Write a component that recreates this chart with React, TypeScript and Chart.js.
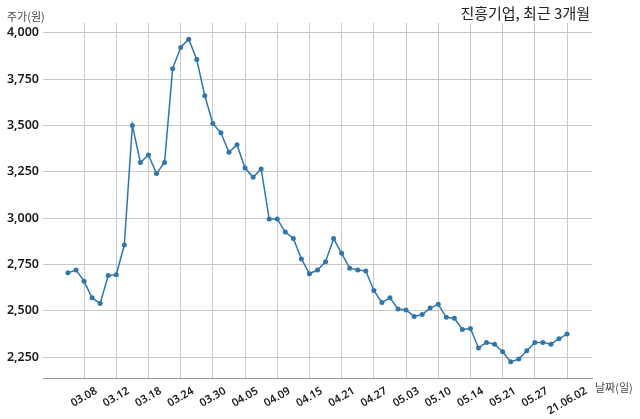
import React, { useEffect, useRef } from 'react';
import { Chart, registerables } from 'chart.js';

Chart.register(...registerables);

// trading dates (MM.DD), 2021-03-04 .. 2021-06-02
const dates: string[] = [
  '03.04', '03.05', '03.08', '03.09', '03.10', '03.11', '03.12', '03.15', '03.16', '03.17',
  '03.18', '03.19', '03.22', '03.23', '03.24', '03.25', '03.26', '03.29', '03.30', '03.31',
  '04.01', '04.02', '04.05', '04.06', '04.07', '04.08', '04.09', '04.12', '04.13', '04.14',
  '04.15', '04.16', '04.19', '04.20', '04.21', '04.22', '04.23', '04.26', '04.27', '04.28',
  '04.29', '04.30', '05.03', '05.04', '05.06', '05.07', '05.10', '05.11', '05.12', '05.13',
  '05.14', '05.17', '05.18', '05.20', '05.21', '05.24', '05.25', '05.26', '05.27', '05.28',
  '05.31', '06.01', '06.02',
];

// closing price (원)
const prices: number[] = [
  2705, 2720, 2660, 2570, 2540, 2690, 2695, 2855, 3500, 3300,
  3340, 3240, 3300, 3805, 3920, 3965, 3855, 3660, 3510, 3460,
  3355, 3395, 3270, 3220, 3265, 2995, 2995, 2925, 2890, 2780,
  2700, 2720, 2765, 2890, 2810, 2730, 2720, 2715, 2610, 2545,
  2570, 2510, 2505, 2470, 2480, 2515, 2535, 2465, 2460, 2400,
  2405, 2300, 2330, 2320, 2280, 2225, 2240, 2285, 2330, 2330,
  2320, 2350, 2375,
];

const xTickIndex: number[] = [2, 6, 10, 14, 18, 22, 26, 30, 34, 38, 42, 46, 50, 54, 58, 62];
const xTickLabels: string[] = [
  '03.08', '03.12', '03.18', '03.24', '03.30', '04.05', '04.09', '04.15',
  '04.21', '04.27', '05.03', '05.10', '05.14', '05.21', '05.27', '21.06.02',
];
const yTicks: number[] = [2250, 2500, 2750, 3000, 3250, 3500, 3750, 4000];

const titleText = '진흥기업, 최근 3개월';
const yLabelText = '주가(원)';
const xLabelText = '날짜(일)';

const LINE_COLOR = '#2f76ad';
const GRID_COLOR = '#c8c8c8';

export default function App() {
  const ref = useRef<HTMLCanvasElement | null>(null);

  useEffect(() => {
    if (!ref.current) return;
    const pMin = Math.min(...prices);
    const pMax = Math.max(...prices);
    const yMargin = (pMax - pMin) * 0.05;
    const n = prices.length - 1;
    const xMargin = n * 0.05;

    const textPlugin = {
      id: 'texts',
      afterDraw(chart: any) {
        const { ctx, chartArea } = chart;
        const xs = chart.scales.x;
        ctx.save();
        // x tick labels (rotated, centered)
        const th = Math.PI / 6;
        ctx.font = '600 11px "Noto Sans", "Noto Sans CJK KR", sans-serif';
        ctx.fillStyle = '#1a1a1a';
        xTickIndex.forEach((v, i) => {
          const label = xTickLabels[i];
          const px = xs.getPixelForValue(v);
          const w = ctx.measureText(label).width;
          const h = 12;
          const bh = w * Math.sin(th) + h * Math.cos(th);
          const cy = chartArea.bottom + 7 + bh / 2;
          ctx.save();
          ctx.translate(px, cy);
          ctx.rotate(-th);
          ctx.textAlign = 'center';
          ctx.textBaseline = 'middle';
          ctx.fillText(label, 0, 0);
          ctx.restore();
        });
        // title
        ctx.font = '15px "Noto Sans CJK KR", sans-serif';
        ctx.fillStyle = '#222222';
        ctx.textAlign = 'right';
        ctx.textBaseline = 'middle';
        ctx.fillText(titleText, chartArea.right - 2, 13);
        // axis labels
        ctx.font = '11px "Noto Sans CJK KR", sans-serif';
        ctx.fillStyle = '#444444';
        ctx.textAlign = 'left';
        ctx.fillText(yLabelText, 7, 16.5);
        ctx.fillText(xLabelText, chartArea.right + 3, chartArea.bottom + 10);
        ctx.restore();
      },
    };

    const chart = new Chart(ref.current, {
      type: 'line',
      data: {
        datasets: [
          {
            data: prices.map((p, i) => ({ x: i, y: p })),
            borderColor: LINE_COLOR,
            backgroundColor: LINE_COLOR,
            borderWidth: 1.5,
            pointRadius: 2.5,
            pointBorderWidth: 0,
            pointBackgroundColor: LINE_COLOR,
            tension: 0,
            fill: false,
          },
        ],
        labels: dates,
      },
      options: {
        animation: false,
        responsive: false,
        maintainAspectRatio: false,
        parsing: false as any,
        layout: { padding: { left: 0, right: 48, top: 23, bottom: 41 } },
        plugins: {
          legend: { display: false },
          tooltip: { enabled: false },
          title: { display: false },
        },
        scales: {
          x: {
            type: 'linear',
            min: -xMargin,
            max: n + xMargin,
            afterBuildTicks: (s: any) => {
              s.ticks = xTickIndex.map((v) => ({ value: v }));
            },
            afterFit: (s: any) => {
              s.height = 0;
            },
            ticks: { display: false },
            grid: { color: GRID_COLOR, lineWidth: 1, drawTicks: false },
            border: { display: true, color: '#9a9a9a', width: 1 },
          },
          y: {
            type: 'linear',
            min: pMin - yMargin,
            max: pMax + yMargin,
            afterBuildTicks: (s: any) => {
              s.ticks = yTicks.map((v) => ({ value: v }));
            },
            afterFit: (s: any) => {
              s.width = 43;
            },
            ticks: {
              padding: 4,
              color: '#1a1a1a',
              font: { family: '"Noto Sans", sans-serif', size: 12.5, weight: 600 as any },
              callback: (v: any) => Number(v).toLocaleString('en-US'),
            },
            grid: { color: GRID_COLOR, lineWidth: 1, drawTicks: false },
            border: { display: false },
          },
        },
      },
      plugins: [textPlugin],
    });
    return () => chart.destroy();
  }, []);

  return (
    <div style={{ position: 'absolute', left: 0, top: 0, width: 640, height: 419, background: '#fff' }}>
      <canvas ref={ref} width={640} height={419} style={{ width: 640, height: 419, display: 'block' }} />
    </div>
  );
}
